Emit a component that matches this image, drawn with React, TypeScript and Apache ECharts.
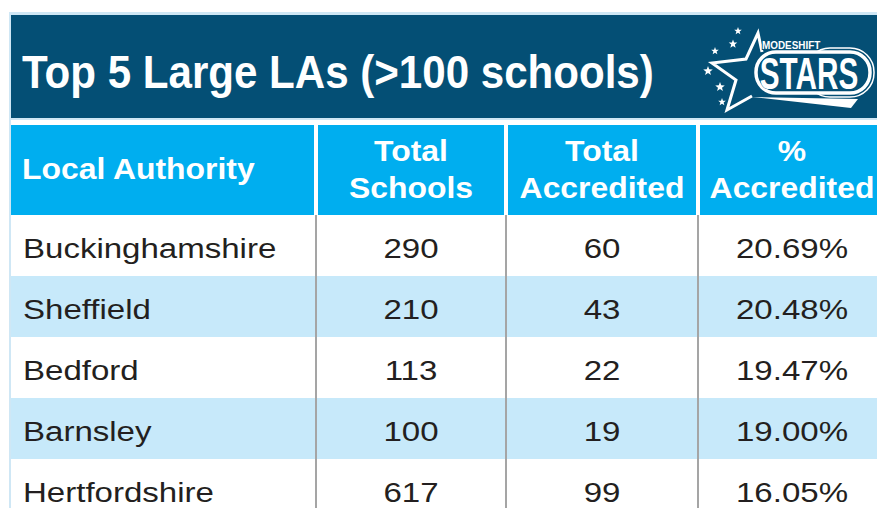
import React, { useEffect, useRef } from "react";
import * as echarts from "echarts";

const titleText = "Top 5 Large LAs (>100 schools)";
const columnHeaders = ["Local Authority", "Total\nSchools", "Total\nAccredited", "%\nAccredited"];
const laNames = ["Buckinghamshire", "Sheffield", "Bedford", "Barnsley", "Hertfordshire"];
const totalSchools = [290, 210, 113, 100, 617];
const totalAccredited = [60, 43, 22, 19, 99];
const pctAccredited = [20.69, 20.48, 19.47, 19.0, 16.05];

const W = 877;
const H = 508;
const GRID_LEFT = 10;
const GRID_TOP = 215;
const ROW_H = 61;
const COL_EDGES = [0, 306, 496, 688, 876];
const FONT = "'Liberation Sans', Arial, Helvetica, sans-serif";
const DARK = "#044f75";
const CYAN = "#00aeef";
const LIGHT = "#c7e9fa";
const BORDER = "#cfe7f5";
const TEXT = "#231f20";
const DIV = "#a5a5a5";

function starPoints(cx: number, cy: number, R: number, r: number) {
  const pts: number[][] = [];
  for (let k = 0; k < 10; k++) {
    const a = -Math.PI / 2 + (k * Math.PI) / 5;
    const rad = k % 2 === 0 ? R : r;
    pts.push([cx + rad * Math.cos(a), cy + rad * Math.sin(a)]);
  }
  return pts;
}

function buildGraphic() {
  const els: any[] = [];
  els.push({ type: "rect", z: 1, shape: { x: 9, y: 12, width: W - 9, height: 108 }, style: { fill: BORDER } });
  els.push({ type: "rect", z: 2, shape: { x: 11, y: 15, width: W - 11, height: 103 }, style: { fill: DARK } });
  els.push({ type: "rect", z: 1, shape: { x: 9, y: 120, width: 2, height: H - 120 }, style: { fill: BORDER } });
  els.push({
    type: "text",
    z: 3,
    x: 22,
    y: 72,
    scaleX: 0.915,
    style: {
      text: titleText,
      fill: "#ffffff",
      fontSize: 46,
      fontWeight: "bold",
      fontFamily: FONT,
      align: "left",
      textAlign: "left",
      verticalAlign: "middle",
      textVerticalAlign: "middle",
    },
  });
  // header row
  for (let j = 0; j < 4; j++) {
    const x0 = GRID_LEFT + COL_EDGES[j] + (j > 0 ? 2 : 1);
    const x1 = j < 3 ? GRID_LEFT + COL_EDGES[j + 1] - 2 : W;
    els.push({ type: "rect", z: 2, shape: { x: x0, y: 125, width: x1 - x0, height: 90 }, style: { fill: CYAN } });
    const left = j === 0;
    const cx = left ? 22 : GRID_LEFT + (COL_EDGES[j] + COL_EDGES[j + 1]) / 2;
    els.push({
      type: "text",
      z: 3,
      x: cx,
      y: 169,
      scaleX: 1.1,
      style: {
        text: columnHeaders[j],
        fill: "#ffffff",
        fontSize: 29,
        fontWeight: "bold",
        fontFamily: FONT,
        lineHeight: 37,
        align: left ? "left" : "center",
        textAlign: left ? "left" : "center",
        verticalAlign: "middle",
        textVerticalAlign: "middle",
      },
    });
  }
  // logo
  const smallStars = [
    [738, 31, 4],
    [733, 44, 4.5],
    [715, 51, 4],
    [708, 71, 5],
    [720, 87, 5],
    [722, 102, 4],
  ];
  smallStars.forEach(([cx, cy, R]) => {
    els.push({ type: "polygon", z: 4, shape: { points: starPoints(cx, cy, R, R * 0.42) }, style: { fill: "#ffffff" } });
  });
  els.push({
    type: "polyline",
    z: 4,
    shape: { points: [[762, 52], [758, 33], [746, 59], [712, 63], [736, 80], [727, 110], [752, 96]] },
    style: { stroke: "#ffffff", lineWidth: 3, fill: null },
  });
  els.push({
    type: "polygon",
    z: 4,
    shape: { points: [[752, 97], [858, 99], [851, 108]] },
    style: { fill: "#ffffff" },
  });
  els.push({
    type: "rect",
    z: 4,
    shape: { x: 806, y: 48, width: 68, height: 49, r: 24 },
    style: { stroke: "#ffffff", lineWidth: 1.5, fill: null },
  });
  els.push({
    type: "rect",
    z: 4,
    shape: { x: 756, y: 52, width: 114, height: 41, r: 20 },
    style: { stroke: "#ffffff", lineWidth: 3.5, fill: DARK },
  });
  els.push({
    type: "text",
    z: 5,
    x: 809,
    y: 73,
    scaleX: 0.66,
    style: {
      text: "STARS",
      fill: "#ffffff",
      stroke: DARK,
      lineWidth: 1,
      fontSize: 45,
      fontFamily: FONT,
      fontWeight: "bold",
      align: "center",
      textAlign: "center",
      verticalAlign: "middle",
      textVerticalAlign: "middle",
    },
  });
  els.push({
    type: "text",
    z: 5,
    x: 762,
    y: 45,
    scaleX: 0.9,
    style: {
      text: "MODESHIFT",
      fill: "#ffffff",
      stroke: DARK,
      lineWidth: 2,
      fontSize: 11,
      fontWeight: "bold",
      fontFamily: FONT,
      align: "left",
      textAlign: "left",
      verticalAlign: "middle",
      textVerticalAlign: "middle",
    },
  });
  return els;
}

export default function App() {
  const ref = useRef<HTMLDivElement>(null);
  useEffect(() => {
    if (!ref.current) return;
    const chart = echarts.init(ref.current, null, { renderer: "svg" });
    const rowData = laNames.map((_, i) => [0, i]);
    chart.setOption({
      animation: false,
      backgroundColor: "#ffffff",
      grid: {
        left: GRID_LEFT,
        top: GRID_TOP,
        width: COL_EDGES[4],
        height: ROW_H * laNames.length,
        outerBoundsMode: "none",
        containLabel: false,
      },
      xAxis: { type: "value", min: 0, max: COL_EDGES[4], show: false },
      yAxis: { type: "category", data: laNames, inverse: true, show: false },
      graphic: { elements: buildGraphic() },
      series: [
        {
          type: "custom",
          data: rowData,
          encode: { x: 0, y: 1 },
          clip: false,
          renderItem: (params: any, api: any) => {
            const i = params.dataIndex;
            const c = api.coord([0, i]);
            const h = api.size([0, 1])[1];
            const top = c[1] - h / 2;
            const xs = COL_EDGES.map((e) => api.coord([e, i])[0]);
            const ty = c[1] + 2;
            const values = [
              laNames[i],
              String(totalSchools[i]),
              String(totalAccredited[i]),
              pctAccredited[i].toFixed(2) + "%",
            ];
            const children: any[] = [
              {
                type: "rect",
                shape: { x: xs[0] + 1, y: top, width: xs[4] - xs[0], height: h },
                style: { fill: i % 2 ? LIGHT : "#ffffff" },
              },
            ];
            for (let j = 1; j < 4; j++) {
              children.push({
                type: "line",
                shape: { x1: xs[j], y1: top, x2: xs[j], y2: top + h },
                style: { stroke: DIV, lineWidth: 2 },
              });
            }
            values.forEach((t, j) => {
              const left = j === 0;
              children.push({
                type: "text",
                x: left ? xs[0] + 13 : (xs[j] + xs[j + 1]) / 2,
                y: ty,
                scaleX: 1.18,
                style: {
                  text: t,
                  fill: TEXT,
                  fontSize: 28,
                  fontFamily: FONT,
                  align: left ? "left" : "center",
                  verticalAlign: "middle",
                },
              });
            });
            return { type: "group", children };
          },
        },
      ],
    });
    return () => chart.dispose();
  }, []);
  return <div ref={ref} style={{ position: "fixed", left: 0, top: 0, width: W, height: H }} />;
}
